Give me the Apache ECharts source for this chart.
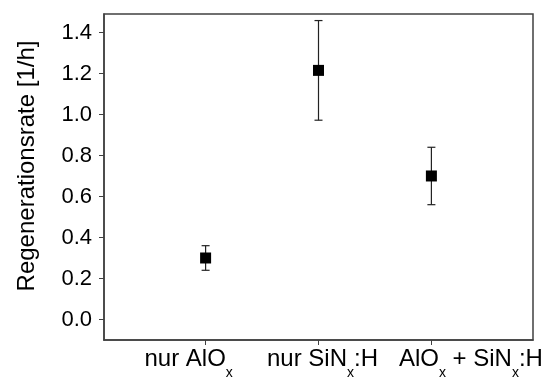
<!DOCTYPE html>
<html>
<head>
<meta charset="utf-8">
<script src="https://cdn.jsdelivr.net/npm/echarts@6/dist/echarts.min.js"></script>
<style>html,body{margin:0;padding:0;background:#fff;}#c{width:553px;height:387px;}</style>
</head>
<body>
<div id="c"></div>
<script>
// ---- data ----
const categories = ['nur AlO_x', 'nur SiN_x:H', 'AlO_x + SiN_x:H'];
const categoryPos = [1, 2, 3];
const rateValues = [0.30, 1.215, 0.70];
const rateErrors = [0.06, 0.243, 0.14];
const yTicks = [0, 0.2, 0.4, 0.6, 0.8, 1.0, 1.2, 1.4];
const yTitle = 'Regenerationsrate [1/h]';

// label horizontal nudges in axis units (style only)
const labelNudge = [-0.15, 0.035, 0.35];
const labelPos = categoryPos.map((p, i) => p + labelNudge[i]);

function toRich(s) {
  return s.split(/(_x)/).map(p => p === '_x' ? '{s|x}' : (p ? '{a|' + p + '}' : '')).join('');
}

const FONT = 'Liberation Sans';
const chart = echarts.init(document.getElementById('c'), null, {renderer: 'canvas'});
const axisColor = '#404040';

chart.setOption({
  animation: false,
  grid: {left: 104, top: 14, right: 20, bottom: 47, show: true, borderColor: axisColor, borderWidth: 1.5, containLabel: false},
  xAxis: {
    type: 'value', min: 0.1, max: 3.9,
    axisLine: {show: true, onZero: false, lineStyle: {color: axisColor, width: 1.5}},
    axisTick: {show: true, customValues: categoryPos, length: 5, lineStyle: {color: axisColor, width: 1}},
    splitLine: {show: false},
    axisLabel: {
      customValues: labelPos, margin: 7, hideOverlap: false, showMinLabel: true, showMaxLabel: true,
      formatter: v => {
        let best = 0;
        labelPos.forEach((p, i) => { if (Math.abs(p - v) < Math.abs(labelPos[best] - v)) best = i; });
        return toRich(categories[best]);
      },
      rich: {
        a: {fontFamily: FONT, fontSize: 24, color: '#000', lineHeight: 24, verticalAlign: 'top'},
        s: {fontFamily: FONT, fontSize: 14, color: '#000', lineHeight: 33, verticalAlign: 'bottom'}
      }
    }
  },
  yAxis: {
    type: 'value', min: -0.1, max: 1.49,
    name: yTitle, nameLocation: 'middle', nameGap: 65,
    nameTextStyle: {fontFamily: FONT, fontSize: 24, color: '#000', padding: [0, 0, 0, 22]},
    axisLine: {show: true, onZero: false, lineStyle: {color: axisColor, width: 1.5}},
    axisTick: {show: true, customValues: yTicks, length: 5, lineStyle: {color: axisColor, width: 1}},
    splitLine: {show: false},
    axisLabel: {customValues: yTicks, margin: 12, fontFamily: FONT, fontSize: 22, color: '#000', formatter: v => v.toFixed(1)}
  },
  series: [
    {
      type: 'custom',
      data: categoryPos.map((x, i) => [x, rateValues[i] - rateErrors[i], rateValues[i] + rateErrors[i]]),
      encode: {x: 0, y: [1, 2]},
      renderItem: function (params, api) {
        const x = api.value(0);
        const lo = api.coord([x, api.value(1)]);
        const hi = api.coord([x, api.value(2)]);
        const w = 4;
        const st = {stroke: '#222', lineWidth: 1.2};
        return {type: 'group', children: [
          {type: 'line', shape: {x1: lo[0], y1: lo[1], x2: hi[0], y2: hi[1]}, style: st},
          {type: 'line', shape: {x1: lo[0] - w, y1: lo[1], x2: lo[0] + w, y2: lo[1]}, style: st},
          {type: 'line', shape: {x1: hi[0] - w, y1: hi[1], x2: hi[0] + w, y2: hi[1]}, style: st}
        ]};
      },
      z: 2
    },
    {
      type: 'scatter',
      data: categoryPos.map((x, i) => [x, rateValues[i]]),
      symbol: 'rect', symbolSize: 11,
      itemStyle: {color: '#000', opacity: 1},
      z: 3
    }
  ]
});
</script>
</body>
</html>
